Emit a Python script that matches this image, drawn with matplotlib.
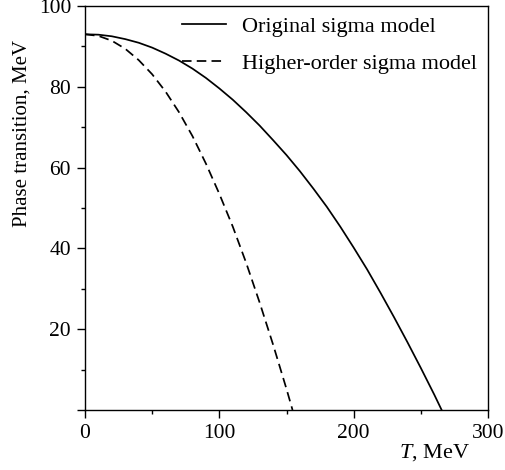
import matplotlib
matplotlib.use("Agg")
import matplotlib.pyplot as plt

# values (T in MeV, phase transition in MeV)
t_original = [0, 10, 20, 30, 40, 50, 60, 70, 80, 90, 100, 110, 120, 130, 140,
              150, 160, 170, 180, 190, 200, 210, 220, 230, 240, 250, 260, 265.5]
v_original = [93.0, 92.9, 92.5, 91.8, 90.9, 89.7, 88.2, 86.5, 84.5, 82.2, 79.6,
              76.8, 73.7, 70.4, 66.8, 63.1, 59.1, 54.8, 50.3, 45.4, 40.2, 34.8,
              29.0, 23.0, 16.8, 10.4, 3.8, 0.0]

t_higher = [0, 10, 20, 30, 40, 50, 60, 70, 80, 90, 100, 110, 120, 130, 140,
            150, 154.5]
v_higher = [93.0, 92.6, 91.4, 89.4, 86.6, 83.1, 78.8, 73.7, 67.8, 61.0, 53.5,
            45.4, 36.4, 26.6, 16.2, 5.2, 0.0]

labels = ["Original sigma model", "Higher-order sigma model"]

plt.rcParams["font.family"] = ["Liberation Serif", "DejaVu Serif"]
plt.rcParams["mathtext.fontset"] = "custom"
plt.rcParams["mathtext.rm"] = "Liberation Serif"
plt.rcParams["mathtext.it"] = "Liberation Serif:italic"

W, H = 506, 470
fig = plt.figure(figsize=(W / 100, H / 100), dpi=100)
ax = fig.add_axes([85 / W, 1 - 410 / H, (488 - 85) / W, (410 - 6) / H])

ax.plot(t_original, v_original, color="black", lw=1.25, label=labels[0])
ax.plot(t_higher, v_higher, color="black", lw=1.25, linestyle=(0, (5.5, 3)),
        label=labels[1])

ax.set_xlim(0, 300)
ax.set_ylim(0, 100)
ax.set_xticks([0, 100, 200, 300])
ax.set_xticks([50, 150, 250], minor=True)
ax.set_yticks([0, 20, 40, 60, 80, 100])
ax.set_yticklabels(["", "20", "40", "60", "80", "100"])
ax.set_yticks([10, 30, 50, 70, 90], minor=True)

ax.tick_params(which="major", direction="out", length=6, width=1.0,
               labelsize=15.5, pad=4, top=False, right=False)
ax.tick_params(which="minor", direction="out", length=3, width=1.0,
               top=False, right=False)
for sp in ax.spines.values():
    sp.set_linewidth(1.0)

fig.text(22 / W, 1 - 227 / H, "Phase transition, MeV", rotation=90,
         ha="center", va="bottom", fontsize=15)
fig.text(470 / W, 1 - 458 / H, "$T$, MeV", ha="right", va="baseline",
         fontsize=16)

ax.legend(loc="upper left", bbox_to_anchor=(182 / W, 1 - 16 / H),
          bbox_transform=fig.transFigure, frameon=False, fontsize=16,
          borderpad=0, borderaxespad=0, handlelength=2.0, handletextpad=0.68,
          labelspacing=0.75)

fig.savefig("out.png", dpi=100)
